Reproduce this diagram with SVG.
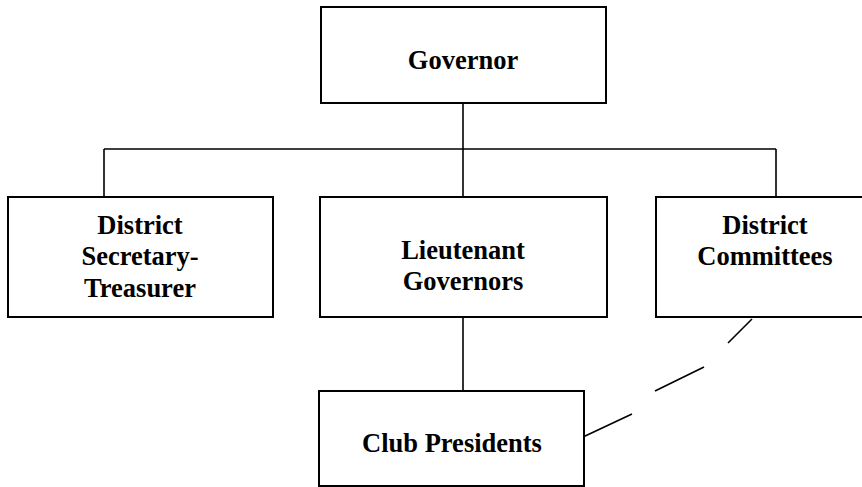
<svg xmlns="http://www.w3.org/2000/svg" width="862" height="487" viewBox="0 0 862 487">
<style>
.box{fill:#fff;stroke:#000;stroke-width:2}
.lbl{font-family:"Liberation Serif","Times New Roman",serif;font-weight:bold;font-size:26.5px;text-anchor:middle;fill:#000}
.ln{fill:none;stroke:#000;stroke-width:1.6}
</style>
<rect width="862" height="487" fill="#fff"/>
<g id="connectors">
<path class="ln" d="M463,103 V149 M104,149 H776 M104,149 V197 M463,149 V197 M776,149 V197 M463,317 V391"/>
<path class="ln" d="M583,437 L632,414 M655,391 L704,367 M728,343 L752,319"/>
</g>
<g id="governor">
<rect class="box" x="321" y="7" width="285" height="96"/>
<text class="lbl" x="463" y="69">Governor</text>
</g>
<g id="secretary-treasurer">
<rect class="box" x="8" y="197" width="265" height="120"/>
<text class="lbl" x="140" y="234">District</text>
<text class="lbl" x="140" y="265">Secretary-</text>
<text class="lbl" x="140" y="297">Treasurer</text>
</g>
<g id="lieutenant-governors">
<rect class="box" x="320" y="197" width="287" height="120"/>
<text class="lbl" x="463" y="259">Lieutenant</text>
<text class="lbl" x="463" y="290">Governors</text>
</g>
<g id="district-committees">
<rect class="box" x="656" y="197" width="220" height="120"/>
<text class="lbl" x="765" y="234">District</text>
<text class="lbl" x="765" y="265">Committees</text>
</g>
<g id="club-presidents">
<rect class="box" x="319" y="391" width="265" height="95"/>
<text class="lbl" x="452" y="452">Club Presidents</text>
</g>
</svg>
